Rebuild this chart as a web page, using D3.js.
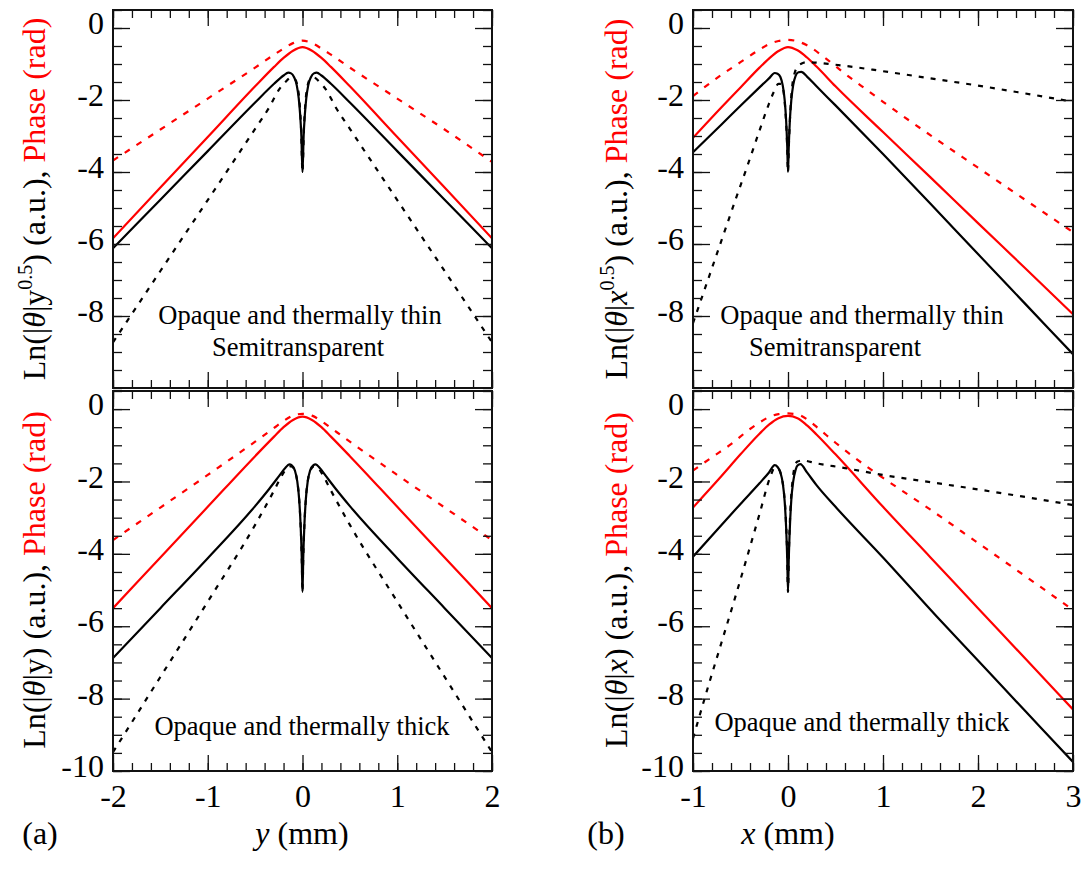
<!DOCTYPE html>
<html><head><meta charset="utf-8">
<script src="https://cdn.jsdelivr.net/npm/d3@7"></script>
<style>body{margin:0;background:#fff}</style>
</head><body>
<svg id="c" width="1081" height="872"></svg>
<script>
// ---------- data ----------
const xTicksA = [-2,-1,0,1,2];
const xTicksB = [-1,0,1,2,3];
const yTicksTop = [0,-2,-4,-6,-8];
const yTicksBot = [0,-2,-4,-6,-8,-10];

// panel (a) top : Ln(|θ|y^0.5), Phase
const aTopRedSolid = [[-2,-5.84],[-1.5,-4.43],[-1,-3.03],[-0.5,-1.62],[-0.3,-1.08],[-0.2,-0.83],[-0.1,-0.63],[0,-0.53],[0.1,-0.63],[0.2,-0.83],[0.3,-1.08],[0.5,-1.62],[1,-3.03],[1.5,-4.43],[2,-5.84]];
const aTopRedDash = [[-2,-3.68],[-1.5,-2.82],[-1,-1.96],[-0.5,-1.1],[-0.3,-0.74],[-0.2,-0.57],[-0.1,-0.42],[0,-0.35],[0.1,-0.42],[0.2,-0.57],[0.3,-0.74],[0.5,-1.1],[1,-1.96],[1.5,-2.82],[2,-3.72]];
const aTopBlackSolid = [[-2,-6.12],[-1.5,-4.77],[-1,-3.42],[-0.5,-2.07],[-0.3,-1.55],[-0.2,-1.32],[-0.15,-1.24],[-0.12,-1.26],[-0.09,-1.36],[-0.06,-1.6],[-0.04,-1.95],[-0.025,-2.4],[-0.012,-3.0],[0,-4.0],[0.012,-3.0],[0.025,-2.4],[0.04,-1.95],[0.06,-1.6],[0.09,-1.36],[0.12,-1.26],[0.15,-1.24],[0.2,-1.32],[0.3,-1.55],[0.5,-2.07],[1,-3.42],[1.5,-4.77],[2,-6.12]];
const aTopBlackDash = [[-2,-8.73],[-1.5,-6.75],[-1,-4.78],[-0.5,-2.8],[-0.35,-2.2],[-0.25,-1.72],[-0.18,-1.5],[-0.12,-1.38],[-0.08,-1.42],[-0.05,-1.65],[-0.03,-2.1],[-0.015,-2.8],[0,-4.0],[0.015,-2.8],[0.03,-2.1],[0.05,-1.65],[0.08,-1.42],[0.12,-1.38],[0.18,-1.5],[0.25,-1.72],[0.35,-2.2],[0.5,-2.8],[1,-4.78],[1.5,-6.75],[2,-8.73]];

// panel (a) bottom : Ln(|θ|y), Phase
const aBotRedSolid = [[-2,-5.5],[-1.5,-4.1],[-1,-2.7],[-0.5,-1.3],[-0.3,-0.76],[-0.2,-0.5],[-0.1,-0.3],[0,-0.21],[0.1,-0.3],[0.2,-0.5],[0.3,-0.76],[0.5,-1.3],[1,-2.7],[1.5,-4.1],[2,-5.5]];
const aBotRedDash = [[-2,-3.62],[-1.5,-2.72],[-1,-1.82],[-0.5,-0.9],[-0.3,-0.52],[-0.2,-0.33],[-0.1,-0.18],[0,-0.13],[0.1,-0.18],[0.2,-0.33],[0.3,-0.52],[0.5,-0.9],[1,-1.82],[1.5,-2.72],[2,-3.62]];
const aBotBlackSolid = [[-2,-6.88],[-1.5,-5.5],[-1,-4.12],[-0.5,-2.68],[-0.35,-2.2],[-0.25,-1.86],[-0.18,-1.62],[-0.14,-1.53],[-0.11,-1.56],[-0.08,-1.7],[-0.055,-2.0],[-0.035,-2.5],[-0.02,-3.2],[-0.008,-4.1],[0,-5.05],[0.008,-4.1],[0.02,-3.2],[0.035,-2.5],[0.055,-2.0],[0.08,-1.7],[0.11,-1.56],[0.14,-1.53],[0.18,-1.62],[0.25,-1.86],[0.35,-2.2],[0.5,-2.68],[1,-4.12],[1.5,-5.5],[2,-6.88]];
const aBotBlackDash = [[-2,-9.48],[-1.5,-7.4],[-1,-5.32],[-0.5,-3.2],[-0.3,-2.25],[-0.22,-1.85],[-0.16,-1.62],[-0.12,-1.58],[-0.08,-1.72],[-0.055,-2.0],[-0.035,-2.5],[-0.02,-3.2],[-0.008,-4.1],[0,-5.05],[0.008,-4.1],[0.02,-3.2],[0.035,-2.5],[0.055,-2.0],[0.08,-1.72],[0.12,-1.58],[0.16,-1.62],[0.22,-1.85],[0.3,-2.25],[0.5,-3.2],[1,-5.32],[1.5,-7.4],[2,-9.48]];

// panel (b) top : Ln(|θ|x^0.5), Phase
const bTopRedSolid = [[-1,-3.05],[-0.7,-2.2],[-0.5,-1.65],[-0.3,-1.1],[-0.2,-0.85],[-0.1,-0.64],[0,-0.53],[0.1,-0.62],[0.2,-0.82],[0.3,-1.07],[0.5,-1.62],[1,-2.89],[1.5,-4.15],[2,-5.42],[2.5,-6.68],[3,-7.95]];
const bTopRedDash = [[-1,-1.89],[-0.7,-1.3],[-0.5,-0.95],[-0.3,-0.6],[-0.2,-0.45],[-0.1,-0.36],[0,-0.33],[0.1,-0.37],[0.2,-0.48],[0.4,-0.85],[0.6,-1.27],[0.83,-1.72],[1,-2.05],[1.5,-2.98],[2,-3.88],[2.5,-4.78],[3,-5.67]];
const bTopBlackSolid = [[-1,-3.45],[-0.7,-2.68],[-0.5,-2.16],[-0.3,-1.65],[-0.2,-1.4],[-0.14,-1.25],[-0.11,-1.27],[-0.08,-1.36],[-0.055,-1.6],[-0.035,-2.0],[-0.02,-2.55],[-0.008,-3.3],[0,-4.0],[0.008,-3.3],[0.02,-2.55],[0.035,-2.0],[0.055,-1.58],[0.08,-1.33],[0.11,-1.23],[0.14,-1.22],[0.2,-1.35],[0.3,-1.62],[0.5,-2.15],[1,-3.5],[1.5,-4.88],[2,-6.28],[2.5,-7.67],[3,-9.06]];
const bTopBlackDash = [[-1,-8.2],[-0.85,-7.05],[-0.7,-5.9],[-0.55,-4.75],[-0.43,-3.85],[-0.3,-2.85],[-0.2,-2.1],[-0.15,-1.78],[-0.1,-1.55],[-0.07,-1.55],[-0.045,-1.8],[-0.025,-2.4],[-0.01,-3.2],[0,-4.0],[0.01,-3.2],[0.025,-2.3],[0.045,-1.6],[0.07,-1.25],[0.1,-1.08],[0.15,-0.98],[0.2,-0.95],[0.5,-1.02],[1,-1.2],[1.5,-1.4],[2,-1.6],[2.5,-1.82],[3,-2.05]];

// panel (b) bottom : Ln(|θ|x), Phase
const bBotRedSolid = [[-1,-2.72],[-0.7,-1.85],[-0.5,-1.25],[-0.3,-0.68],[-0.2,-0.43],[-0.1,-0.25],[0,-0.19],[0.1,-0.25],[0.2,-0.45],[0.3,-0.7],[0.5,-1.25],[1,-2.7],[1.5,-4.1],[2,-5.5],[2.5,-6.9],[3,-8.3]];
const bBotRedDash = [[-1,-1.7],[-0.8,-1.33],[-0.6,-0.97],[-0.4,-0.55],[-0.3,-0.37],[-0.2,-0.22],[-0.1,-0.14],[0,-0.12],[0.1,-0.15],[0.2,-0.28],[0.34,-0.58],[0.5,-0.93],[0.83,-1.59],[1,-1.9],[1.5,-2.78],[2,-3.7],[2.5,-4.62],[3,-5.55]];
const bBotBlackSolid = [[-1,-4.08],[-0.7,-3.2],[-0.5,-2.62],[-0.3,-2.05],[-0.2,-1.75],[-0.14,-1.55],[-0.11,-1.6],[-0.08,-1.75],[-0.055,-2.05],[-0.035,-2.55],[-0.02,-3.25],[-0.008,-4.15],[0,-5.05],[0.008,-4.15],[0.02,-3.25],[0.035,-2.5],[0.055,-2.0],[0.08,-1.68],[0.1,-1.56],[0.13,-1.52],[0.2,-1.75],[0.3,-2.1],[0.5,-2.7],[1,-4.1],[1.6,-5.83],[2,-6.95],[2.5,-8.35],[3,-9.75]];
const bBotBlackDash = [[-1,-9.1],[-0.85,-7.75],[-0.7,-6.45],[-0.55,-5.15],[-0.43,-4.08],[-0.3,-2.9],[-0.19,-1.9],[-0.14,-1.62],[-0.1,-1.65],[-0.07,-1.85],[-0.045,-2.25],[-0.025,-2.9],[-0.01,-3.9],[0,-5.05],[0.01,-3.9],[0.025,-2.8],[0.045,-2.05],[0.07,-1.6],[0.1,-1.45],[0.15,-1.42],[0.3,-1.5],[0.6,-1.63],[1,-1.82],[1.5,-2.02],[2,-2.22],[2.5,-2.43],[3,-2.65]];

// ---------- layout ----------
const svg = d3.select("#c");
const FONT = "'Liberation Serif','Times New Roman',serif";
const RED = "#ff0000";
const colL = {x0:113, x1:492, dom:[-2,2], ticks:xTicksA};
const colR = {x0:693, x1:1073, dom:[-1,3], ticks:xTicksB};
const rowT = {y0:10, y1:388};
const rowB = {y0:391, y1:771};
const fmt = d => String(d);

function drawPanel(col, row, curves, opts) {
  const x = d3.scaleLinear().domain(col.dom).range([col.x0, col.x1]);
  const y = d3.scaleLinear().domain([-10, 0.5]).range([row.y1, row.y0]);
  const id = "clip" + col.x0 + "_" + row.y0;
  svg.append("clipPath").attr("id", id).append("rect")
    .attr("x", col.x0).attr("y", row.y0).attr("width", col.x1-col.x0).attr("height", row.y1-row.y0);
  const g = svg.append("g");
  const line = d3.line().x(d => x(d[0])).y(d => y(d[1])).curve(d3.curveMonotoneX);
  const cg = g.append("g").attr("clip-path", `url(#${id})`);
  curves.forEach(c => {
    cg.append("path").attr("d", line(c.data)).attr("fill","none")
      .attr("stroke", c.color).attr("stroke-width", 2.2)
      .attr("stroke-dasharray", c.dash || null).attr("stroke-linejoin","round");
  });
  const yMinor = d3.range(-10, 0.51, 0.5);
  const xMinor = d3.range(col.dom[0], col.dom[1] + 0.001, 0.2);
  const sty = s => s.call(gg => gg.select(".domain").remove())
    .call(gg => gg.selectAll("line").attr("stroke","#111").attr("stroke-width",1.3));
  g.append("g").attr("transform",`translate(${col.x0},0)`).call(d3.axisLeft(y).tickValues(yMinor).tickSize(-9).tickFormat("")).call(sty);
  g.append("g").attr("transform",`translate(${col.x1},0)`).call(d3.axisRight(y).tickValues(yMinor).tickSize(-9).tickFormat("")).call(sty);
  g.append("g").attr("transform",`translate(0,${row.y0})`).call(d3.axisTop(x).tickValues(xMinor).tickSize(-8).tickFormat("")).call(sty);
  g.append("g").attr("transform",`translate(0,${row.y1})`).call(d3.axisBottom(x).tickValues(xMinor).tickSize(-8).tickFormat("")).call(sty);
  const yl = g.append("g").attr("transform",`translate(${col.x0},0)`)
    .call(d3.axisLeft(y).tickValues(opts.yTicks).tickSize(-17).tickPadding(9).tickFormat(fmt)).call(sty);
  yl.selectAll("text").attr("font-family", FONT).attr("font-size", 32).attr("fill","#000")
    .attr("dy", "0.3em").attr("y", -4);
  g.append("g").attr("transform",`translate(${col.x1},0)`).call(d3.axisRight(y).tickValues(opts.yTicks).tickSize(-17).tickFormat("")).call(sty);
  g.append("g").attr("transform",`translate(0,${row.y0})`).call(d3.axisTop(x).tickValues(col.ticks).tickSize(-16).tickFormat("")).call(sty);
  const xb = g.append("g").attr("transform",`translate(0,${row.y1})`)
    .call(d3.axisBottom(x).tickValues(col.ticks).tickSize(-16).tickPadding(10).tickFormat(opts.xLabels ? fmt : "")).call(sty);
  xb.selectAll("text").attr("font-family", FONT).attr("font-size", 32).attr("fill","#000").attr("dy","0.8em");
  g.append("rect").attr("x", col.x0).attr("y", row.y0).attr("width", col.x1-col.x0).attr("height", row.y1-row.y0)
    .attr("fill","none").attr("stroke","#111").attr("stroke-width",2);
  opts.notes.forEach(n => {
    g.append("text").attr("x", n.x).attr("y", n.y).attr("text-anchor","middle")
      .attr("font-family", FONT).attr("font-size", 26.5).text(n.t);
  });
}

const BD = "5,7", RD = "6,8";
function curveSet(rs, rd, bs, bd) {
  return [
    {data: rd, color: RED, dash: RD},
    {data: rs, color: RED},
    {data: bd, color: "#000", dash: BD},
    {data: bs, color: "#000"}
  ];
}

drawPanel(colL, rowT, curveSet(aTopRedSolid, aTopRedDash, aTopBlackSolid, aTopBlackDash),
  {yTicks: yTicksTop, xLabels:false, notes:[{x:300,y:324,t:"Opaque and thermally thin"},{x:298,y:356,t:"Semitransparent"}]});
drawPanel(colL, rowB, curveSet(aBotRedSolid, aBotRedDash, aBotBlackSolid, aBotBlackDash),
  {yTicks: yTicksBot, xLabels:true, notes:[{x:302,y:735,t:"Opaque and thermally thick"}]});
drawPanel(colR, rowT, curveSet(bTopRedSolid, bTopRedDash, bTopBlackSolid, bTopBlackDash),
  {yTicks: yTicksTop, xLabels:false, notes:[{x:862,y:324,t:"Opaque and thermally thin"},{x:835,y:356,t:"Semitransparent"}]});
drawPanel(colR, rowB, curveSet(bBotRedSolid, bBotRedDash, bBotBlackSolid, bBotBlackDash),
  {yTicks: yTicksBot, xLabels:true, notes:[{x:862,y:731,t:"Opaque and thermally thick"}]});

function yTitle(cx, cy, v, sup, italicVar) {
  const t = svg.append("text").attr("transform", `translate(${cx},${cy}) rotate(-90)`)
    .attr("text-anchor","middle").attr("font-family", FONT).attr("font-size", 32).attr("fill","#000");
  t.append("tspan").text("Ln(|");
  t.append("tspan").attr("font-style","italic").text("θ");
  t.append("tspan").text("|");
  t.append("tspan").attr("font-style", italicVar ? "italic" : "normal").text(v);
  if (sup) {
    t.append("tspan").attr("font-size", 20).attr("dy", -13).text("0.5");
    t.append("tspan").attr("dy", 13).text(") (a.u.), ");
  } else {
    t.append("tspan").text(") (a.u.), ");
  }
  t.append("tspan").attr("fill", RED).text("Phase (rad)");
}
yTitle(45, 199, "y", true, false);
yTitle(45, 580, "y", false, false);
yTitle(627, 199, "x", true, true);
yTitle(627, 580, "x", false, true);

function xTitle(cx, v) {
  const t = svg.append("text").attr("x", cx).attr("y", 844).attr("text-anchor","middle")
    .attr("font-family", FONT).attr("font-size", 32);
  t.append("tspan").attr("font-style","italic").text(v);
  t.append("tspan").text(" (mm)");
}
xTitle(302, "y");
xTitle(788, "x");
svg.append("text").attr("x", 40).attr("y", 844).attr("text-anchor","middle").attr("font-family", FONT).attr("font-size", 32).text("(a)");
svg.append("text").attr("x", 606).attr("y", 844).attr("text-anchor","middle").attr("font-family", FONT).attr("font-size", 32).text("(b)");
</script>
</body></html>
